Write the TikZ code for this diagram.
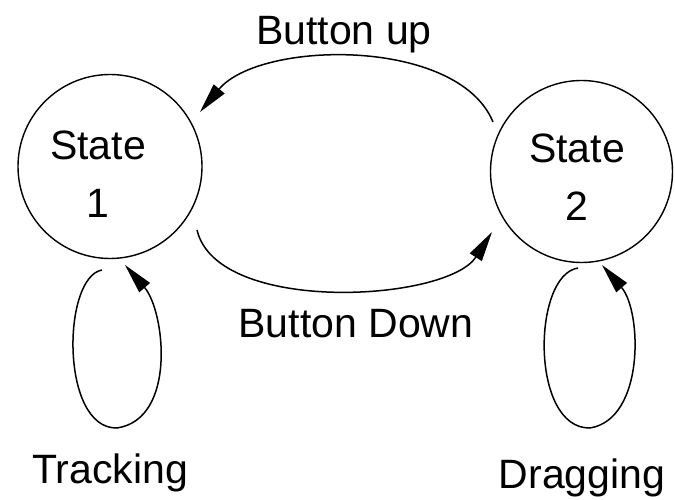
\documentclass[tikz,border=0pt]{standalone}
\usepackage{fontspec}
\setmainfont{Liberation Sans}
\usetikzlibrary{arrows.meta}
\begin{document}
\begin{tikzpicture}[x=1pt,y=1pt,
  state/.style={circle,draw,line width=1.4pt,inner sep=0pt},
  lbl/.style={font=\fontsize{41}{49}\selectfont,inner sep=0pt,anchor=base},
  conn/.style={line width=1.5pt,-{Triangle[length=30pt,width=14pt]}}]
\useasboundingbox[fill=white] (0,0) rectangle (675,499);
\node[state,minimum size=184pt] (s1) at (110,332.5) {};
\node[state,minimum size=182pt] (s2) at (581.5,327.5) {};
\node[lbl] (s1a) at (98,339) {State};
\node[lbl] (s1b) at (98,282) {1};
\node[lbl] (s2a) at (577,336) {State};
\node[lbl] (s2b) at (577,279) {2};
\node[lbl] (up) at (344,454) {Button up};
\node[lbl] (down) at (356,162) {Button Down};
\node[lbl] (track) at (110,16) {Tracking};
\node[lbl] (drag) at (582,11) {Dragging};
% Button up: State 2 -> State 1
\draw[conn] ([shift={(-88.5,49.5)}]s2.center) .. controls +(-35,85) and +(60,72) .. ([shift={(90,54.5)}]s1.center);
% Button Down: State 1 -> State 2
\draw[conn] ([shift={(87,-63.5)}]s1.center) .. controls +(20,-85) and +(-45,-70) .. ([shift={(-89.5,-60.5)}]s2.center);
% Tracking loop
\draw[conn] ([shift={(-8,-103.5)}]s1.center) .. controls +(-40,-7) and +(-57,-1) .. ++(15,-158) .. controls +(60,9) and +(40,-46) .. ([shift={(15,-98.5)}]s1.center);
% Dragging loop
\draw[conn] ([shift={(-3.5,-96.5)}]s2.center) .. controls +(-46,-7) and +(-60,-1) .. ++(12,-160) .. controls +(55,9) and +(40,-46) .. ([shift={(20.5,-93.5)}]s2.center);
\end{tikzpicture}
\end{document}
